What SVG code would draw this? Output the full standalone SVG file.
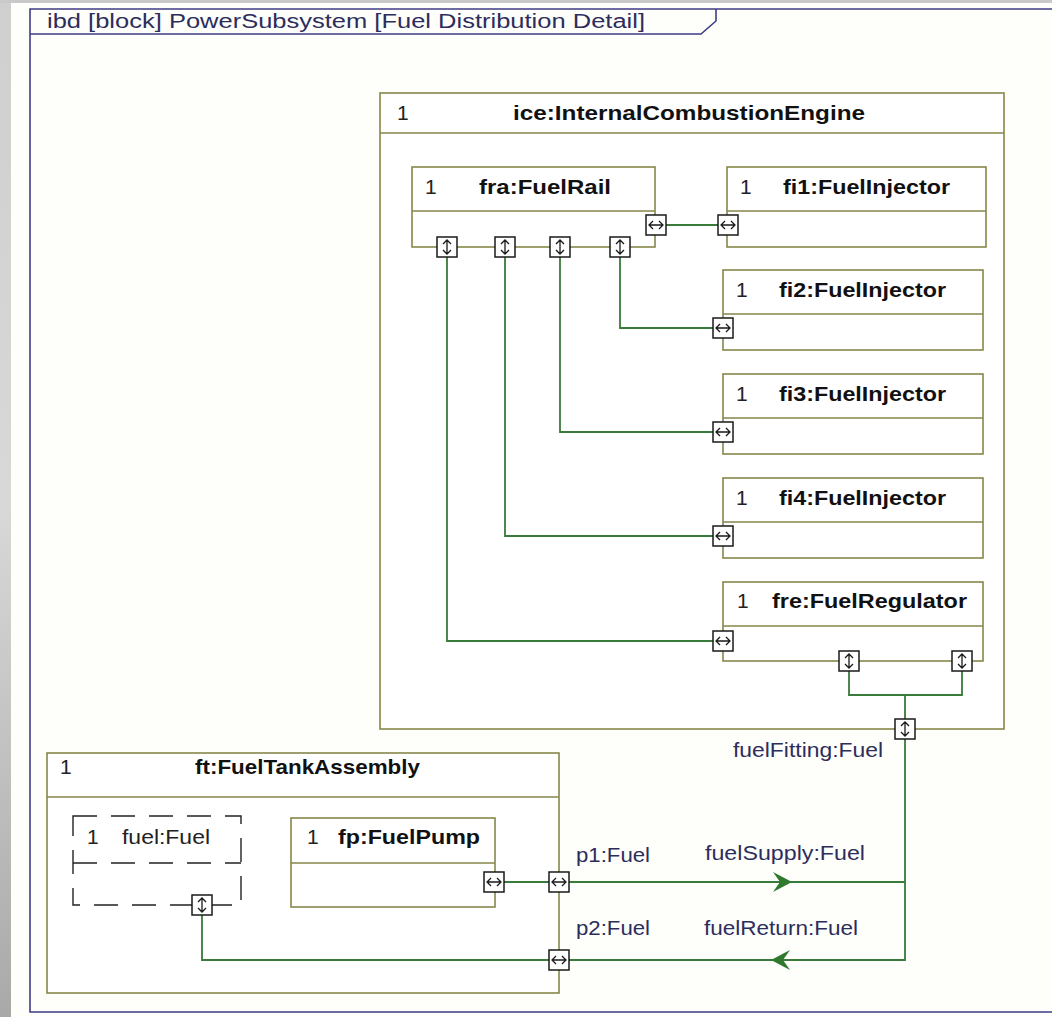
<svg xmlns="http://www.w3.org/2000/svg" width="1052" height="1017" viewBox="0 0 1052 1017">
  <defs>
    <linearGradient id="sideShade" x1="0" y1="0" x2="0" y2="1">
      <stop offset="0" stop-color="#cfcfcf"/>
      <stop offset="0.5" stop-color="#d8d8d8"/>
      <stop offset="1" stop-color="#a9a9a9"/>
    </linearGradient>
    <!-- port glyphs: horizontal and vertical open double arrows -->
    <g id="portH">
      <rect x="-10" y="-10" width="20" height="20" class="port"/>
      <path d="M-6,0 H6 M-3,-4 L-7,0 L-3,4 M3,-4 L7,0 L3,4" class="glyph"/>
    </g>
    <g id="portV">
      <rect x="-10" y="-10" width="20" height="20" class="port"/>
      <path d="M0,-6 V6 M-4,-3 L0,-7 L4,-3 M-4,3 L0,7 L4,3" class="glyph"/>
    </g>
    <path id="barb" d="M0,0 L-19,-10 L-12,0 L-19,10 Z"/>
  </defs>
  <style>
    .frame { fill: none; stroke: #3f3d86; stroke-width: 1.6; }
    .block { fill: #ffffff; stroke: #86864a; stroke-width: 1.6; }
    .sep { stroke: #86864a; stroke-width: 1.4; }
    .dashed { fill: none; stroke: #222; stroke-width: 1.4; stroke-dasharray: 24 14; }
    .port { fill: #ffffff; stroke: #1a1a1a; stroke-width: 1.5; }
    .glyph { fill: none; stroke: #1a1a1a; stroke-width: 1.3; }
    .conn { fill: none; stroke: #3a7a3a; stroke-width: 1.8; }
    .head { fill: #2f7a2f; }
    text { font-family: "Liberation Sans", Arial, sans-serif; }
    .title { font-size: 21px; font-weight: bold; fill: #111; }
    .mult { font-size: 21px; fill: #222; }
    .label { font-size: 20px; fill: #2d2d5c; }
  </style>

  <!-- page background -->
  <rect x="0" y="0" width="1052" height="1017" fill="#fefefb"/>
  <rect x="0" y="0" width="11" height="1017" fill="url(#sideShade)"/>
  <rect x="0" y="0" width="1052" height="3" fill="#c9c9c9"/>

  <!-- diagram frame -->
  <g id="frame">
    <path class="frame" d="M1052,9 H30 V1012 H1052"/>
    <path class="frame" d="M30,34 H701 L716,21 V9"/>
    <text class="label" x="47" y="28" textLength="598" lengthAdjust="spacingAndGlyphs">ibd [block] PowerSubsystem [Fuel Distribution Detail]</text>
  </g>

  <!-- engine and its parts -->
  <g id="ice">
    <rect class="block" x="380" y="93" width="624" height="636"/>
    <line class="sep" x1="380" y1="133" x2="1004" y2="133"/>
    <text class="mult" x="397" y="120">1</text>
    <text class="title" x="513" y="120" textLength="352" lengthAdjust="spacingAndGlyphs">ice:InternalCombustionEngine</text>
  </g>

  <g id="fra">
    <rect class="block" x="412" y="167" width="243" height="80"/>
    <line class="sep" x1="412" y1="211" x2="655" y2="211"/>
    <text class="mult" x="425" y="194">1</text>
    <text class="title" x="479" y="194" textLength="132" lengthAdjust="spacingAndGlyphs">fra:FuelRail</text>
  </g>

  <g id="fi1">
    <rect class="block" x="727" y="167" width="259" height="80"/>
    <line class="sep" x1="727" y1="211" x2="986" y2="211"/>
    <text class="mult" x="740" y="194">1</text>
    <text class="title" x="783" y="194" textLength="167" lengthAdjust="spacingAndGlyphs">fi1:FuelInjector</text>
  </g>

  <g id="fi2">
    <rect class="block" x="723" y="270" width="260" height="80"/>
    <line class="sep" x1="723" y1="314" x2="983" y2="314"/>
    <text class="mult" x="736" y="297">1</text>
    <text class="title" x="779" y="297" textLength="167" lengthAdjust="spacingAndGlyphs">fi2:FuelInjector</text>
  </g>

  <g id="fi3">
    <rect class="block" x="723" y="374" width="260" height="80"/>
    <line class="sep" x1="723" y1="418" x2="983" y2="418"/>
    <text class="mult" x="736" y="401">1</text>
    <text class="title" x="779" y="401" textLength="167" lengthAdjust="spacingAndGlyphs">fi3:FuelInjector</text>
  </g>

  <g id="fi4">
    <rect class="block" x="723" y="478" width="260" height="80"/>
    <line class="sep" x1="723" y1="522" x2="983" y2="522"/>
    <text class="mult" x="736" y="505">1</text>
    <text class="title" x="779" y="505" textLength="167" lengthAdjust="spacingAndGlyphs">fi4:FuelInjector</text>
  </g>

  <g id="fre">
    <rect class="block" x="723" y="582" width="260" height="79"/>
    <line class="sep" x1="723" y1="626" x2="983" y2="626"/>
    <text class="mult" x="737" y="608">1</text>
    <text class="title" x="772" y="608" textLength="195" lengthAdjust="spacingAndGlyphs">fre:FuelRegulator</text>
  </g>

  <!-- fuel tank assembly and its parts -->
  <g id="ft">
    <rect class="block" x="47" y="753" width="512" height="240"/>
    <line class="sep" x1="47" y1="797" x2="559" y2="797"/>
    <text class="mult" x="60" y="774">1</text>
    <text class="title" x="195" y="774" textLength="225" lengthAdjust="spacingAndGlyphs">ft:FuelTankAssembly</text>
  </g>

  <g id="fuel">
    <rect class="dashed" x="73" y="816" width="168" height="89"/>
    <line class="dashed" x1="73" y1="863" x2="241" y2="863"/>
    <text class="mult" x="87" y="844">1</text>
    <text class="label" x="122" y="844" textLength="88" lengthAdjust="spacingAndGlyphs" style="fill:#222">fuel:Fuel</text>
  </g>

  <g id="fp">
    <rect class="block" x="291" y="818" width="204" height="89"/>
    <line class="sep" x1="291" y1="863" x2="495" y2="863"/>
    <text class="mult" x="307" y="844">1</text>
    <text class="title" x="338" y="844" textLength="142" lengthAdjust="spacingAndGlyphs">fp:FuelPump</text>
  </g>

  <!-- connectors -->
  <g id="connectors">
    <path class="conn" d="M656,225 H728"/>
    <path class="conn" d="M620,247 V328 H723"/>
    <path class="conn" d="M560,247 V432 H723"/>
    <path class="conn" d="M505,247 V536 H723"/>
    <path class="conn" d="M447,247 V641 H723"/>
    <path class="conn" d="M849,661 V695 H962 V661 M905,695 V729"/>
    <path class="conn" d="M905,729 V960 H559 M559,882 H905"/>
    <path class="conn" d="M494,882 H559"/>
    <path class="conn" d="M202,905 V960 H559"/>
    <use href="#barb" class="head" transform="translate(792,882)"/>
    <use href="#barb" class="head" transform="translate(771,960) rotate(180)"/>
    <text class="label" x="733" y="757" textLength="150" lengthAdjust="spacingAndGlyphs">fuelFitting:Fuel</text>
    <text class="label" x="576" y="862" textLength="74" lengthAdjust="spacingAndGlyphs">p1:Fuel</text>
    <text class="label" x="705" y="860" textLength="160" lengthAdjust="spacingAndGlyphs">fuelSupply:Fuel</text>
    <text class="label" x="576" y="935" textLength="74" lengthAdjust="spacingAndGlyphs">p2:Fuel</text>
    <text class="label" x="704" y="935" textLength="154" lengthAdjust="spacingAndGlyphs">fuelReturn:Fuel</text>
  </g>

  <!-- ports -->
  <g id="ports">
    <use href="#portH" x="656" y="225"/>
    <use href="#portH" x="728" y="225"/>
    <use href="#portV" x="447" y="247"/>
    <use href="#portV" x="505" y="247"/>
    <use href="#portV" x="560" y="247"/>
    <use href="#portV" x="620" y="247"/>
    <use href="#portH" x="723" y="328"/>
    <use href="#portH" x="723" y="432"/>
    <use href="#portH" x="723" y="536"/>
    <use href="#portH" x="723" y="641"/>
    <use href="#portV" x="849" y="661"/>
    <use href="#portV" x="962" y="661"/>
    <use href="#portV" x="905" y="729"/>
    <use href="#portV" x="202" y="905"/>
    <use href="#portH" x="494" y="882"/>
    <use href="#portH" x="559" y="882"/>
    <use href="#portH" x="559" y="960"/>
  </g>
</svg>
